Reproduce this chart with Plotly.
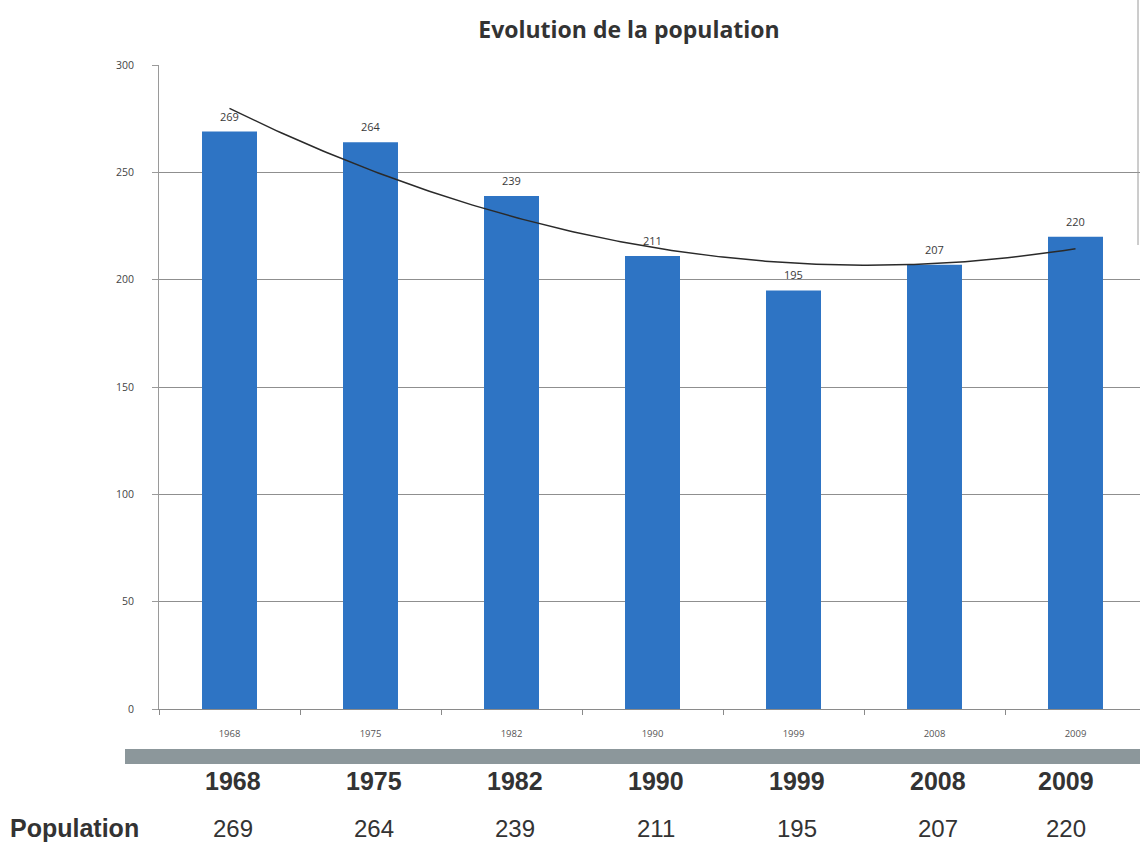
import numpy as np
import plotly.graph_objects as go

# Population census data
years = ["1968", "1975", "1982", "1990", "1999", "2008", "2009"]
population = [269, 264, 239, 211, 195, 207, 220]
y_ticks = [0, 50, 100, 150, 200, 250, 300]

idx = np.arange(len(years))

# Second-order polynomial trendline through the census values
coef = np.polyfit(idx, population, 2)
trend_x = np.linspace(0, len(years) - 1, 200)
trend_y = np.polyval(coef, trend_x)

fig = go.Figure()

fig.add_trace(go.Bar(
    x=years,
    y=population,
    marker=dict(color="#2e74c4", line=dict(width=0)),
    showlegend=False,
))

fig.add_trace(go.Scatter(
    x=trend_x,
    y=trend_y,
    xaxis="x2",
    mode="lines",
    line=dict(color="#2a2a2a", width=1.5),
    showlegend=False,
    hoverinfo="skip",
))

W, H = 1140, 843
plot_left, plot_top, plot_bottom = 159, 65, 709
plot_h = plot_bottom - plot_top
plot_w = W - plot_left


def py(px):
    # pixel row -> paper y (plot area based)
    return (plot_bottom - px) / plot_h


def pxr(px):
    # pixel column -> paper x
    return (px - plot_left) / plot_w


x_range = [-0.5, -0.5 + plot_w / 141.0]

fig.update_layout(
    width=W,
    height=H,
    margin=dict(l=plot_left, r=0, t=plot_top, b=H - plot_bottom),
    paper_bgcolor="white",
    plot_bgcolor="white",
    bargap=0.61,
    title=dict(
        text="<b>Evolution de la population</b>",
        x=629 / W, xref="container", xanchor="center",
        y=1 - 30 / H, yref="container", yanchor="middle",
        font=dict(family="Open Sans", size=23, color="#333333"),
    ),
    xaxis=dict(
        type="category",
        range=x_range,
        showgrid=False,
        showline=True,
        linecolor="#8a8a8a",
        linewidth=1,
        ticks="outside",
        tickson="boundaries",
        ticklen=5,
        tickcolor="#8a8a8a",
        ticklabelstandoff=16,
        tickfont=dict(family="Open Sans", size=9.5, color="#555555"),
        zeroline=False,
    ),
    xaxis2=dict(
        overlaying="x",
        range=x_range,
        visible=False,
    ),
    yaxis=dict(
        range=[0, 300],
        tickvals=y_ticks,
        showgrid=True,
        gridcolor="#8f8f8f",
        gridwidth=1,
        showline=True,
        linecolor="#9a9a9a",
        linewidth=1,
        ticks="outside",
        ticklen=6,
        tickcolor="#9a9a9a",
        ticklabelstandoff=16,
        tickfont=dict(family="Open Sans", size=10.5, color="#444444"),
        zeroline=False,
    ),
)

shapes = [
    # grey separator band above the data table
    dict(type="rect", xref="paper", yref="paper",
         x0=pxr(125), x1=1.0, y0=py(764), y1=py(749),
         fillcolor="#8c979b", line=dict(width=0), layer="above"),
    # right frame edge
    dict(type="line", xref="paper", yref="paper",
         x0=pxr(1138), x1=pxr(1138), y0=py(0), y1=py(245),
         line=dict(color="#9a9a9a", width=1)),
]
fig.update_layout(shapes=shapes)

annotations = []
# value labels above each bar
for i, val in enumerate(population):
    annotations.append(dict(
        x=i, xref="x2", y=val, yref="y",
        text=str(val), showarrow=False, xanchor="center", yanchor="bottom",
        yshift=6,
        font=dict(family="Open Sans", size=11, color="#3a3a3a"),
    ))

# data table under the chart
for i, (yr, val) in enumerate(zip(years, population)):
    shift = -10 if i == len(years) - 1 else 3
    annotations.append(dict(
        x=i, xref="x2", y=py(781), yref="paper",
        text=f"<b>{yr}</b>", showarrow=False, xanchor="center", yanchor="middle",
        xshift=shift,
        font=dict(family="Liberation Sans", size=25, color="#333333"),
    ))
    annotations.append(dict(
        x=i, xref="x2", y=py(828), yref="paper",
        text=str(val), showarrow=False, xanchor="center", yanchor="middle",
        xshift=shift,
        font=dict(family="Liberation Sans", size=24, color="#333333"),
    ))

annotations.append(dict(
    x=pxr(8), xref="paper", y=py(828), yref="paper",
    text="<b>Population</b>", showarrow=False, xanchor="left", yanchor="middle",
    font=dict(family="Liberation Sans", size=25, color="#333333"),
))
fig.update_layout(annotations=annotations)

fig.write_html("out.html")
